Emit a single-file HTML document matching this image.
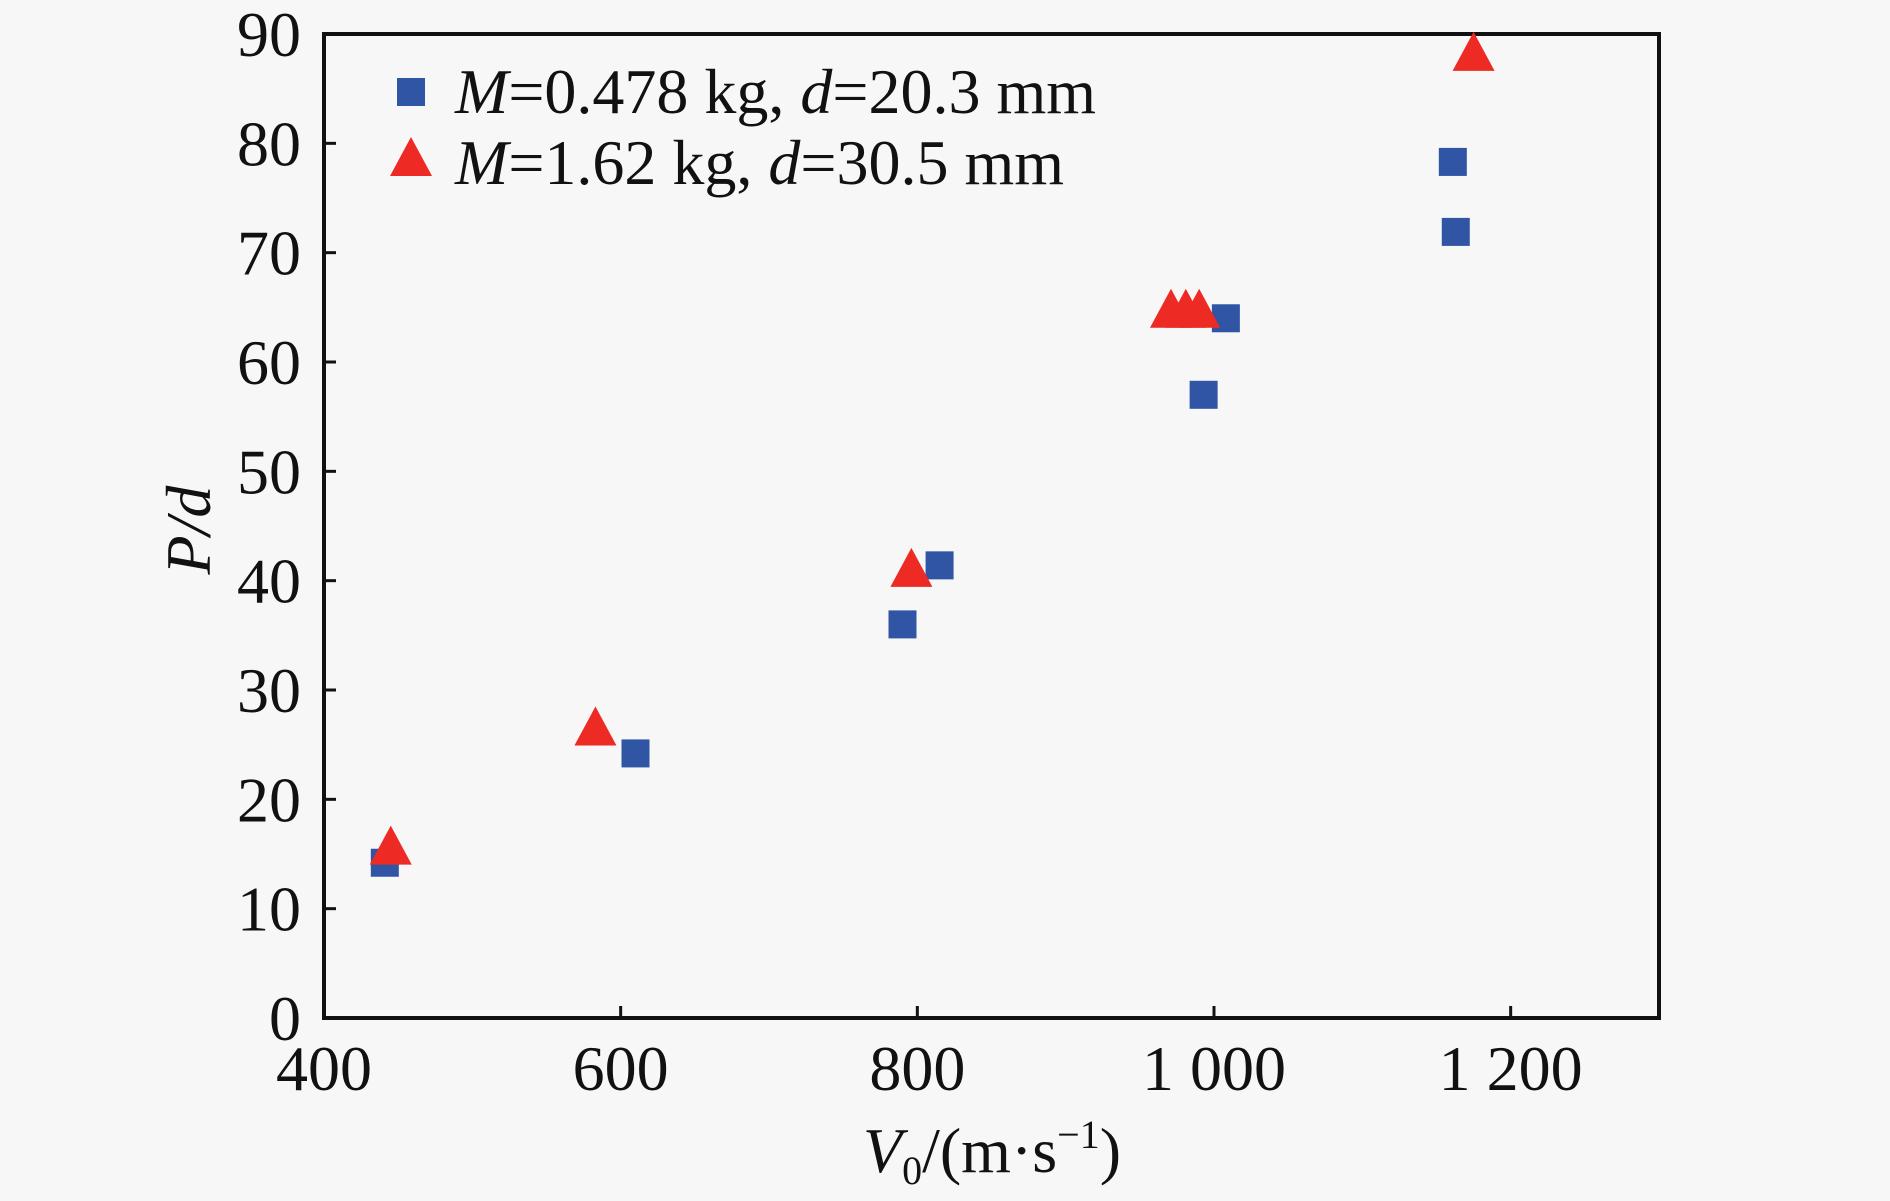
<!DOCTYPE html>
<html><head><meta charset="utf-8"><style>
html,body{margin:0;padding:0;background:#f7f7f7;}
svg{display:block;font-family:"Liberation Serif",serif;}
</style></head><body>
<svg id="chart" width="1890" height="1201" xmlns="http://www.w3.org/2000/svg">
<rect width="1890" height="1201" fill="#f7f7f7"/>
</svg>
<script>
const sqX=[441,610,790,815,993,1008,1161,1163];
const sqY=[14.2,24.2,36,41.4,57,64,78.3,71.9];
const trX=[445,583,796,971,981,990,1175];
const trY=[15.4,26.3,40.8,64.5,64.5,64.5,88];
const xTicks=[400,600,800,1000,1200];
const xTickLabels=["400","600","800","1 000","1 200"];
const yTicks=[0,10,20,30,40,50,60,70,80,90];
const L=324,R=1659,T=34,B=1018;
const sx=v=>L+(v-400)/(1300-400)*(R-L);
const sy=v=>B-v/90*(B-T);
const NS="http://www.w3.org/2000/svg";
const svg=document.getElementById('chart');
function mk(t,a,txt){const e=document.createElementNS(NS,t);for(const k in a)e.setAttribute(k,a[k]);if(txt!==undefined)e.textContent=txt;svg.appendChild(e);return e;}
xTicks.forEach((v,i)=>{
 const t=mk('line',{x1:sx(v),x2:sx(v),y1:B,y2:B-12,stroke:'#111','stroke-width':3});
 
 
 const l=mk('text',{x:sx(v),y:1090,'text-anchor':'middle','font-size':64,fill:'#111'},xTickLabels[i]);
 
 
});
yTicks.forEach(v=>{
 const t=mk('line',{x1:L,x2:L+12,y1:sy(v),y2:sy(v),stroke:'#111','stroke-width':3});
 
 
 const l=mk('text',{x:301,y:sy(v)+22,'text-anchor':'end','font-size':64,fill:'#111'},String(v));
 
 
});
const frame=mk('rect',{x:L,y:T,width:R-L,height:B-T,fill:'none',stroke:'#111','stroke-width':4});


sqX.forEach((v,i)=>{
 const s=mk('rect',{x:sx(v)-14,y:sy(sqY[i])-14,width:28,height:28,fill:'#2f55a4'});
 
 
});
trX.forEach((v,i)=>{
 const cx=sx(v),cy=sy(trY[i]);
 const p=mk('polygon',{points:`${cx},${cy-24} ${cx-21},${cy+15} ${cx+21},${cy+15}`,fill:'#ee2a24'});
 
 
});
</script>
<svg style="position:absolute;left:0;top:0" width="1890" height="1201" xmlns="http://www.w3.org/2000/svg" font-family="Liberation Serif, serif">
<g>
<rect x="397" y="78" width="28" height="28" fill="#2f55a4"/>
<text x="455" y="113" font-size="64" fill="#111"><tspan font-style="italic">M</tspan>=0.478 kg, <tspan font-style="italic">d</tspan>=20.3 mm</text>
<polygon points="411,137 390,176 432,176" fill="#ee2a24"/>
<text x="455" y="184" font-size="64" fill="#111"><tspan font-style="italic">M</tspan>=1.62 kg, <tspan font-style="italic">d</tspan>=30.5 mm</text>
</g>
<text transform="translate(210,530) rotate(-90)" text-anchor="middle" font-size="64" font-style="italic" fill="#111">P/d</text>
<text x="992" y="1172" text-anchor="middle" font-size="64" fill="#111"><tspan font-style="italic">V</tspan><tspan font-size="40" dy="12">0</tspan><tspan dy="-12">/(m·s</tspan><tspan font-size="40" dy="-24">−1</tspan><tspan dy="24">)</tspan></text>
</svg>
</body></html>
